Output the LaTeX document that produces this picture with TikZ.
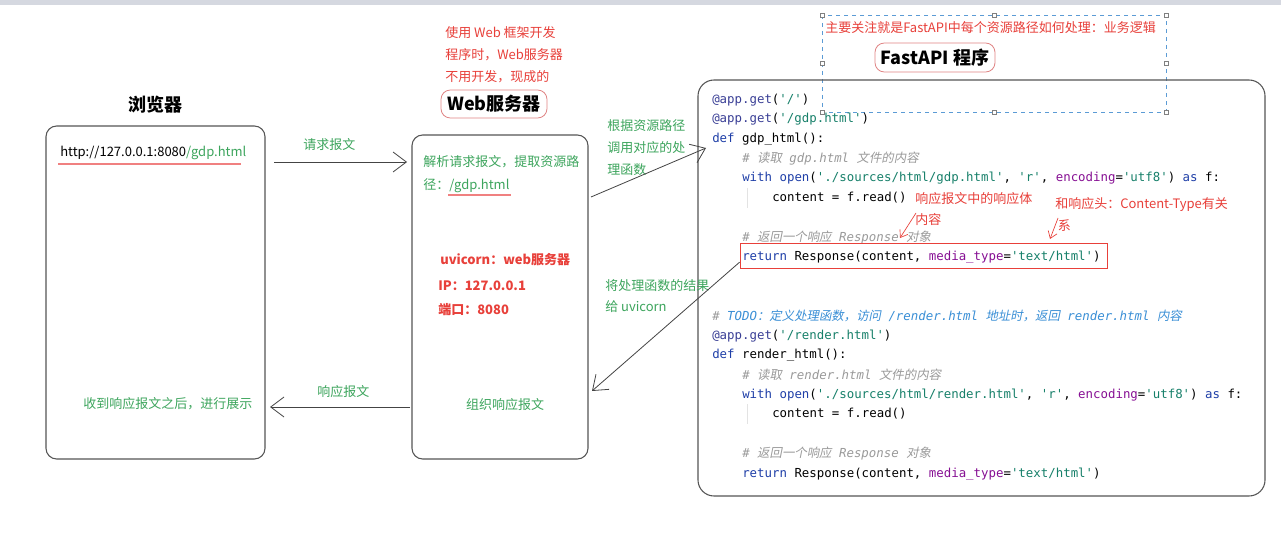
\documentclass[tikz,border=0pt]{standalone}
\usepackage{fontspec}
\setmainfont{Noto Sans CJK SC}
\setmonofont{DejaVu Sans Mono}
\newfontfamily\cjk{Noto Sans CJK SC}
\newfontfamily\cjkit{Noto Sans CJK SC}[FakeSlant=0.2]
\usepackage{xcolor}
\usetikzlibrary{arrows.meta,positioning}
\definecolor{CBox}{HTML}{555555}
\definecolor{CLine}{HTML}{444444}
\definecolor{CGreen}{HTML}{3DA55D}
\definecolor{CRed}{HTML}{E8403A}
\definecolor{CPink}{HTML}{E08585}
\definecolor{CUnder}{HTML}{F08080}
\definecolor{CSel}{HTML}{5B9BD5}
\definecolor{CBar}{HTML}{D5D8E0}
\definecolor{CKey}{HTML}{1F3FA8}
\definecolor{CDec}{HTML}{3A3F96}
\definecolor{CStr}{HTML}{17806A}
\definecolor{CArg}{HTML}{871094}
\definecolor{CCmt}{HTML}{9A9A9A}
\definecolor{CTodo}{HTML}{3A8FD6}
\definecolor{CGuide}{HTML}{E3E3E3}
\newcommand{\zhi}[1]{{\cjkit #1}}
\newcommand{\ckw}[1]{\textcolor{CKey}{#1}}
\newcommand{\cdec}[1]{\textcolor{CDec}{#1}}
\newcommand{\cstr}[1]{\textcolor{CStr}{#1}}
\newcommand{\ckarg}[1]{\textcolor{CArg}{#1}}
\newcommand{\ccmt}[1]{{\color{CCmt}\itshape #1}}
\newcommand{\ctodo}[1]{{\color{CTodo}\itshape #1}}

\begin{document}
\begin{tikzpicture}[x=0.75pt,y=-0.75pt,
  box/.style={draw=CBox,line width=0.8pt,rounded corners=8pt,inner sep=0pt},
  tag/.style={draw=CPink,line width=0.6pt,rounded corners=7pt,inner sep=0pt,
    font=\fontsize{13.5}{16}\selectfont\bfseries},
  title/.style={inner sep=0pt,font=\fontsize{13.5}{16}\selectfont\bfseries},
  gtxt/.style={text=CGreen,anchor=west,inner sep=0pt,align=left,
    font=\fontsize{9.75}{16.5}\selectfont},
  rtxt/.style={text=CRed,anchor=west,inner sep=0pt,align=left,
    font=\fontsize{9.75}{16.5}\selectfont},
  rbold/.style={rtxt,font=\fontsize{9.75}{12}\selectfont\bfseries},
  code/.style={anchor=west,inner sep=0pt,font=\ttfamily\fontsize{9.3}{11}\selectfont},
  arr/.style={-{Straight Barb[length=10pt,width=15pt]},line width=0.6pt,color=CLine},
  rarr/.style={-{Straight Barb[length=5pt,width=7pt]},line width=0.5pt,color=CRed}
]
  \useasboundingbox (0,0) rectangle (1281,534);
  \fill[white] (0,0) rectangle (1281,534);
  \fill[CBar] (0,0) rectangle (1281,5);

  % browser
  \node[title] (brtitle) at (155,105) {浏览器};
  \node[box,minimum width=164.25pt,minimum height=249.75pt] (browser) at (155.5,292.5) {};
  \node[anchor=west,inner sep=0pt,font=\fontsize{9.75}{12}\selectfont] (url) at (60,153)
    {http://127.0.0.1:8080\textcolor{CGreen}{/gdp.html}};
  \draw[CUnder,line width=0.8pt] (58,164) -- (241,164);
  \node[gtxt] (show) at (83,404) {收到响应报文之后，进行展示};

  % web server
  \node[rtxt] (wsnote) at (445,55) {使用 Web 框架开发\\程序时，Web服务器\\不用开发，现成的};
  \node[tag,minimum width=79.5pt,minimum height=21pt] (wstag) at (494,104) {Web服务器};
  \node[box,minimum width=132pt,minimum height=243pt] (server) at (500,297) {};
  \node[gtxt,font=\fontsize{9.75}{17.25}\selectfont] (parse) at (423,174.5)
    {解析请求报文，提取资源路\\径：/gdp.html};
  \draw[CUnder,line width=0.8pt] (448,195) -- (511,195);
  \node[rbold] (uvi) at (440,260) {uvicorn：web服务器};
  \node[rbold] (ip) at (438,286) {IP：127.0.0.1};
  \node[rbold] (port) at (438,310) {端口：8080};
  \node[gtxt,anchor=center] (build) at (505,405) {组织响应报文};

  % fastapi program
  \node[rtxt] (focus) at (825,28) {主要关注就是FastAPI中每个资源路径如何处理：业务逻辑};
  \node[tag,minimum width=90pt,minimum height=21.75pt] (fatag) at (935,57.5) {FastAPI 程序};
  \draw[CSel,dashed,line width=0.5pt] (822,15) rectangle (1166,112);
  \foreach \hx/\hy in {822/15,994/15,1166/15,822/63.5,1166/63.5,822/112,994/112,1166/112}
    \draw[gray,fill=white,line width=0.3pt] (\hx-2,\hy-2) rectangle (\hx+2,\hy+2);
  \node[box,rounded corners=12pt,minimum width=425.25pt,minimum height=312pt] (app) at (981.5,288) {};

  \draw[CGuide,line width=0.6pt] (747,188) -- (747,208);
  \draw[CGuide,line width=0.6pt] (747,404) -- (747,424);
  \node[code] (c1) at (712,100) {\cdec{@app.get}(\cstr{'/'})};
  \node[code] (c2) at (712,119) {\cdec{@app.get}(\cstr{'/gdp.html'})};
  \node[code] (c3) at (712,139) {\ckw{def} gdp\_html():};
  \node[code] (c4) at (742,159) {\ccmt{\# \zhi{读取} gdp.html \zhi{文件的内容}}};
  \node[code] (c5) at (742,178) {\ckw{with} \ckw{open}(\cstr{'./sources/html/gdp.html'}, \cstr{'r'}, \ckarg{encoding}=\cstr{'utf8'}) \ckw{as} f:};
  \node[code] (c6) at (772,198) {content = f.read()};
  \node[code] (c7) at (742,238) {\ccmt{\# \zhi{返回一个响应} Response \zhi{对象}}};
  \node[code] (c8) at (742,257) {\ckw{return} Response(content, \ckarg{media\_type}=\cstr{'text/html'})};
  \node[draw=CRed,line width=0.6pt,inner sep=0pt,minimum width=275.25pt,minimum height=18.75pt] (retbox) at (923.5,255.5) {};
  \node[code] (c9) at (712,316) {\ccmt{\#} \ctodo{TODO\zhi{：定义处理函数，访问} /render.html \zhi{地址时，返回} render.html \zhi{内容}}};
  \node[code] (c10) at (712,336) {\cdec{@app.get}(\cstr{'/render.html'})};
  \node[code] (c11) at (712,355) {\ckw{def} render\_html():};
  \node[code] (c12) at (742,375) {\ccmt{\# \zhi{读取} render.html \zhi{文件的内容}}};
  \node[code] (c13) at (742,395) {\ckw{with} \ckw{open}(\cstr{'./sources/html/render.html'}, \cstr{'r'}, \ckarg{encoding}=\cstr{'utf8'}) \ckw{as} f:};
  \node[code] (c14) at (772,414) {content = f.read()};
  \node[code] (c15) at (742,454) {\ccmt{\# \zhi{返回一个响应} Response \zhi{对象}}};
  \node[code] (c16) at (742,474) {\ckw{return} Response(content, \ckarg{media\_type}=\cstr{'text/html'})};

  % notes on the response
  \node[rtxt,font=\fontsize{9.75}{15.75}\selectfont] (bodynote) at (915,209.5) {响应报文中的响应体\\内容};
  \node[rtxt] (hdrnote) at (1055,214) {和响应头：Content-Type有关\\\hspace*{2pt}系};
  \coordinate (bodyS) at (916,213);
  \coordinate (bodyE) at (900,238);
  \coordinate (hdrS) at (1058,218);
  \coordinate (hdrE) at (1050,239);
  \draw[rarr] (bodyS) -- (bodyE);
  \draw[rarr] (hdrS) -- (hdrE);

  % connectors
  \coordinate (reqS) at (274,162);
  \coordinate (reqE) at (407,162);
  \coordinate (respS) at (410,407);
  \coordinate (respE) at (270,407);
  \coordinate (callS) at (591,197);
  \coordinate (callE) at (706,148);
  \coordinate (backE) at (592,391);
  \node[gtxt] (reqlbl) at (303,145) {请求报文};
  \node[gtxt] (resplbl) at (317,392) {响应报文};
  \node[gtxt] (dispatch) at (607,147.5) {根据资源路径\\调用对应的处\\理函数};
  \node[gtxt,font=\fontsize{9.75}{15.75}\selectfont] (result) at (605,296.5) {将处理函数的结果\\给 uvicorn};
  \draw[arr] (reqS) -- (reqE);
  \draw[arr] (respS) -- (respE);
  \draw[arr] (callS) -- (callE);
  \draw[arr] ([yshift=-5pt]retbox.west) -- (backE);
\end{tikzpicture}
\end{document}
